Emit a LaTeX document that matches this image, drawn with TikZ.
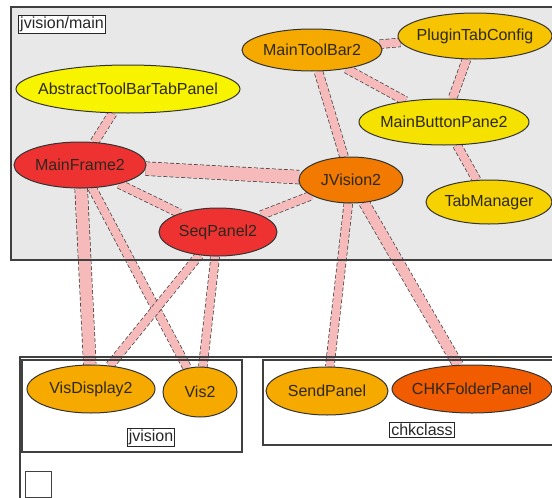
\documentclass[tikz,border=0pt]{standalone}
\usepackage{fontspec}
\setmainfont{Liberation Sans}
\usetikzlibrary{shapes.geometric}

\pgfdeclarelayer{frames}
\pgfdeclarelayer{links}
\pgfdeclarelayer{borders}
\pgfsetlayers{frames,links,borders,main}

\definecolor{panelgray}{RGB}{232,232,232}
\definecolor{linkpink}{RGB}{246,186,186}
\definecolor{linkedge}{RGB}{70,60,60}
\definecolor{cYellow}{RGB}{248,244,0}
\definecolor{cLemon}{RGB}{246,226,0}
\definecolor{cSun}{RGB}{246,210,0}
\definecolor{cGold}{RGB}{246,196,0}
\definecolor{cAmber}{RGB}{246,170,0}
\definecolor{cOrange}{RGB}{242,122,0}
\definecolor{cBlaze}{RGB}{242,92,0}
\definecolor{cRed}{RGB}{238,50,50}
\definecolor{inktext}{RGB}{45,40,30}

\begin{document}
\begin{tikzpicture}[x=1pt,y=-1pt,
  cls/.style={ellipse, draw=black!80, line width=1pt, inner xsep=-40pt, inner ysep=0pt,
    font=\fontsize{16}{16}\selectfont, text=inktext},
  tag/.style={draw=black!85, fill=white, line width=0.9pt, inner sep=1.5pt,
    font=\fontsize{16}{16}\selectfont, text=black!85},
  link/.style={line width=#1, draw=linkpink,
    preaction={draw=linkedge, line width=#1+1.4pt, dash pattern=on 4pt off 2pt}},
  link/.default=8pt,
  frame/.style={draw=black!75, line width=1.3pt}]

\useasboundingbox (0,0) rectangle (552,498);

% package frames
\begin{pgfonlayer}{frames}
  \fill[white] (0,0) rectangle (552,498);
  \fill[panelgray] (11,7) rectangle (560,260);
\end{pgfonlayer}
\begin{pgfonlayer}{borders}
  \draw[frame] (11,7) rectangle (560,260);
  \draw[frame] (20,357) rectangle (560,510);
  \draw[frame] (22,360) rectangle (242,452);
  \draw[frame] (263,360) rectangle (560,445);
  \draw[draw=black!75, line width=1pt, fill=white] (25,471) rectangle (51,497);
\end{pgfonlayer}

% package labels
\node[tag] (lmain) at (62,24) {jvision/main};
\node[tag] (ljv) at (151,437) {jvision};
\node[tag] (lchk) at (422,430) {chkclass};

% classes
\node[cls, fill=cYellow, minimum width=224, minimum height=48] (atb) at (128,89) {AbstractToolBarTabPanel};
\node[cls, fill=cAmber, minimum width=140, minimum height=42] (mtb) at (312,50) {MainToolBar2};
\node[cls, fill=cGold, minimum width=154, minimum height=46] (ptc) at (475,36) {PluginTabConfig};
\node[cls, fill=cLemon, minimum width=170, minimum height=46] (mbp) at (444,122) {MainButtonPane2};
\node[cls, fill=cSun, minimum width=126, minimum height=44] (tm) at (489,202) {TabManager};
\node[cls, fill=cOrange, minimum width=104, minimum height=46] (jv) at (351,180) {JVision2};
\node[cls, fill=cRed, minimum width=132, minimum height=46] (mf) at (80,165) {MainFrame2};
\node[cls, fill=cRed, minimum width=118, minimum height=48] (sp) at (218,232) {SeqPanel2};
\node[cls, fill=cAmber, minimum width=128, minimum height=48] (vd) at (91,389) {VisDisplay2};
\node[cls, fill=cAmber, minimum width=74, minimum height=50] (v2) at (200,392) {Vis2};
\node[cls, fill=cAmber, minimum width=122, minimum height=48] (snd) at (327,391) {SendPanel};
\node[cls, fill=cBlaze, minimum width=160, minimum height=48] (chk) at (472,389) {CHKFolderPanel};

% dependencies
\begin{pgfonlayer}{links}
  \draw[link] (atb) -- (mf);
  \draw[link=13pt] (mf) -- (jv);
  \draw[link] (mf) -- (sp);
  \draw[link=12pt] (mf) -- (vd);
  \draw[link] (mf) -- (v2);
  \draw[link] (sp) -- (jv);
  \draw[link] (sp) -- (vd);
  \draw[link] (sp) -- (v2);
  \draw[link] (jv) -- (mtb);
  \draw[link] (jv) -- (snd);
  \draw[link=10pt] (jv) -- (chk);
  \draw[link] (mtb) -- (ptc);
  \draw[link] (mtb) -- (mbp);
  \draw[link] (ptc) -- (mbp);
  \draw[link] (mbp) -- (tm);
\end{pgfonlayer}

\end{tikzpicture}
\end{document}
